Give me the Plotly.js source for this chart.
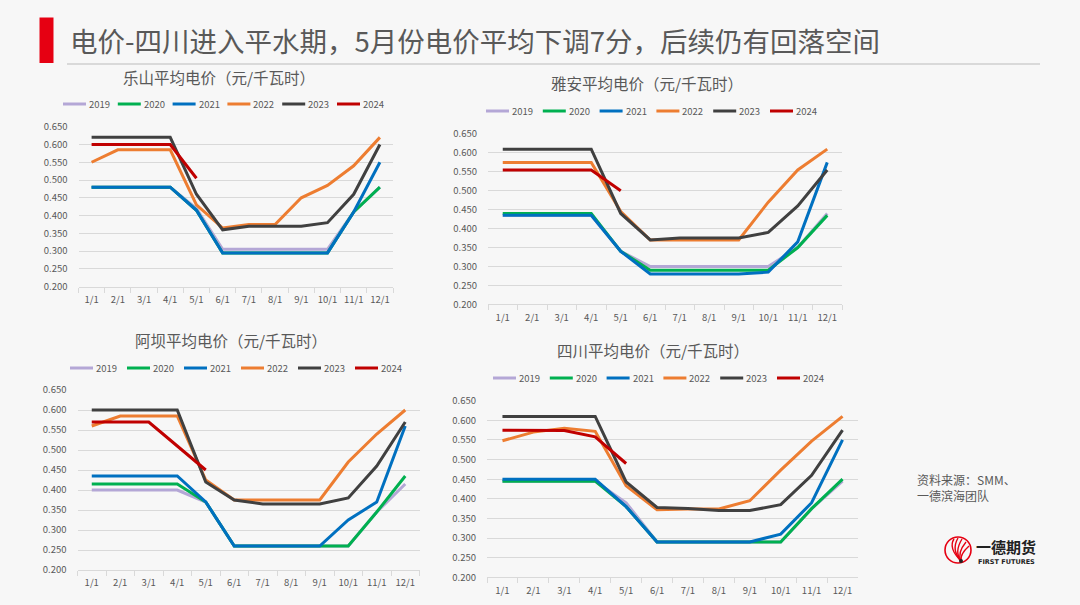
<!DOCTYPE html>
<html>
<head>
<meta charset="utf-8">
<script src="https://cdn.plot.ly/plotly-3.0.1.min.js"></script>
<style>
html,body{margin:0;padding:0;background:#f7f7f7;}
#chart{width:1080px;height:605px;}
</style>
</head>
<body>
<div id="chart"></div>
<script>
// ---------------- data ----------------
var months = ['1/1','2/1','3/1','4/1','5/1','6/1','7/1','8/1','9/1','10/1','11/1','12/1'];
var years = ['2019','2020','2021','2022','2023','2024'];
var yearColors = ['#b4a7d6','#00b050','#0070c0','#ed7d31','#404040','#c00000'];
var yTicks = [0.200,0.250,0.300,0.350,0.400,0.450,0.500,0.550,0.600,0.650];

var chartTitles = ['乐山平均电价（元/千瓦时）','雅安平均电价（元/千瓦时）','阿坝平均电价（元/千瓦时）','四川平均电价（元/千瓦时）'];
var headerTitle = '电价-四川进入平水期，5月份电价平均下调7分，后续仍有回落空间';
var sourceLines = ['资料来源：SMM、','一德滨海团队'];

// 乐山
var leshan2019 = [0.480,0.480,0.480,0.480,0.420,0.305,0.305,0.305,0.305,0.305,0.410,0.480];
var leshan2020 = [0.480,0.480,0.480,0.480,0.415,0.295,0.295,0.295,0.295,0.295,0.410,0.480];
var leshan2021 = [0.480,0.480,0.480,0.480,0.415,0.295,0.295,0.295,0.295,0.295,0.410,0.550];
var leshan2022 = [0.550,0.585,0.585,0.585,0.430,0.365,0.375,0.375,0.450,0.485,0.540,0.620];
var leshan2023 = [0.620,0.620,0.620,0.620,0.460,0.360,0.370,0.370,0.370,0.380,0.460,0.600];
var leshan2024 = [0.600,0.600,0.600,0.600,0.505];

// 雅安
var yaan2019 = [0.435,0.435,0.435,0.435,0.340,0.300,0.300,0.300,0.300,0.300,0.350,0.440];
var yaan2020 = [0.440,0.440,0.440,0.440,0.340,0.290,0.290,0.290,0.290,0.290,0.350,0.435];
var yaan2021 = [0.435,0.435,0.435,0.435,0.340,0.280,0.280,0.280,0.280,0.285,0.365,0.575];
var yaan2022 = [0.575,0.575,0.575,0.575,0.445,0.370,0.370,0.370,0.370,0.470,0.555,0.610];
var yaan2023 = [0.610,0.610,0.610,0.610,0.440,0.370,0.375,0.375,0.375,0.390,0.460,0.555];
var yaan2024 = [0.555,0.555,0.555,0.555,0.500];

// 阿坝
var aba2019 = [0.400,0.400,0.400,0.400,0.370,0.260,0.260,0.260,0.260,0.260,0.345,0.415];
var aba2020 = [0.415,0.415,0.415,0.415,0.370,0.260,0.260,0.260,0.260,0.260,0.345,0.435];
var aba2021 = [0.435,0.435,0.435,0.435,0.370,0.260,0.260,0.260,0.260,0.325,0.370,0.560];
var aba2022 = [0.560,0.585,0.585,0.585,0.425,0.375,0.375,0.375,0.375,0.470,0.540,0.600];
var aba2023 = [0.600,0.600,0.600,0.600,0.420,0.375,0.365,0.365,0.365,0.380,0.460,0.570];
var aba2024 = [0.570,0.570,0.570,0.510,0.450];

// 四川
var sc2019 = [0.445,0.445,0.445,0.445,0.390,0.290,0.290,0.290,0.290,0.290,0.375,0.445];
var sc2020 = [0.445,0.445,0.445,0.445,0.380,0.290,0.290,0.290,0.290,0.290,0.375,0.450];
var sc2021 = [0.450,0.450,0.450,0.450,0.380,0.290,0.290,0.290,0.290,0.310,0.390,0.550];
var sc2022 = [0.548,0.570,0.580,0.572,0.433,0.372,0.374,0.374,0.395,0.473,0.547,0.610];
var sc2023 = [0.610,0.610,0.610,0.610,0.443,0.378,0.375,0.370,0.370,0.385,0.460,0.575];
var sc2024 = [0.575,0.575,0.574,0.558,0.490];

var chartSeries = [
  [leshan2019,leshan2020,leshan2021,leshan2022,leshan2023,leshan2024],
  [yaan2019,yaan2020,yaan2021,yaan2022,yaan2023,yaan2024],
  [aba2019,aba2020,aba2021,aba2022,aba2023,aba2024],
  [sc2019,sc2020,sc2021,sc2022,sc2023,sc2024]
];

// ---------------- layout geometry (pixels) ----------------
var W = 1080, H = 605;
var FONT = '"Noto Sans CJK SC", "Noto Sans", sans-serif';
var GRAY = '#595959';
var GRID = '#d9d9d9';
// plot boxes: [left, right, topY(0.650), bottomY(0.200)]
var boxes = [
  [78.5, 393, 126.7, 286.7],
  [488, 842, 134, 304.3],
  [77.5, 419.5, 390, 570],
  [487, 858, 400.7, 577.3]
];
var titlePos = [[219,77],[647,83],[231,340],[653,350]];
var legendPos = [[63,104,54.8],[486,111,56.8],[70,368,57],[493,378,56.8]];

var data = [];
var layout = {
  width: W, height: H,
  margin: {l:0,r:0,t:0,b:0},
  paper_bgcolor: '#f7f7f7',
  plot_bgcolor: 'rgba(0,0,0,0)',
  showlegend: false,
  font: {family: FONT, color: GRAY},
  shapes: [], annotations: []
};

for (var c = 0; c < 4; c++) {
  var sfx = c === 0 ? '' : String(c + 1);
  var b = boxes[c];
  layout['xaxis' + sfx] = {
    domain: [b[0] / W, b[1] / W],
    anchor: 'y' + sfx,
    type: 'category',
    categoryorder: 'array', categoryarray: months,
    range: [-0.5, 11.5],
    showgrid: false, zeroline: false,
    showline: true, linecolor: GRID, linewidth: 1,
    ticks: 'outside', tickson: 'boundaries', ticklen: 5, tickcolor: GRID, tickwidth: 1,
    tickangle: 0,
    ticklabelstandoff: 4,
    tickfont: {size: 9.5, color: GRAY, family: FONT},
    fixedrange: true
  };
  layout['yaxis' + sfx] = {
    domain: [1 - b[3] / H, 1 - b[2] / H],
    anchor: 'x' + sfx,
    range: [0.2, 0.65],
    tickmode: 'array', tickvals: yTicks,
    tickformat: '.3f',
    showgrid: true, gridcolor: GRID, gridwidth: 1,
    zeroline: false, showline: false, ticks: '',
    ticklabelstandoff: 10,
    tickfont: {size: 9.5, color: GRAY, family: FONT},
    fixedrange: true
  };
  var series = chartSeries[c];
  for (var s = 0; s < years.length; s++) {
    data.push({
      type: 'scatter', mode: 'lines',
      x: months.slice(0, series[s].length), y: series[s],
      name: years[s],
      line: {color: yearColors[s], width: 3},
      xaxis: 'x' + sfx, yaxis: 'y' + sfx,
      hoverinfo: 'skip'
    });
  }
  // chart title
  layout.annotations.push({
    xref: 'x5', yref: 'y5', x: titlePos[c][0], y: titlePos[c][1],
    text: chartTitles[c], showarrow: false, xanchor: 'center', yanchor: 'middle',
    font: {size: 15.5, color: GRAY, family: FONT}
  });
  // legend
  var lp = legendPos[c];
  for (var k = 0; k < years.length; k++) {
    var lx = lp[0] + k * lp[2];
    layout.shapes.push({
      type: 'line', xref: 'x5', yref: 'y5',
      x0: lx, x1: lx + 23, y0: lp[1], y1: lp[1],
      line: {color: yearColors[k], width: 3}
    });
    layout.annotations.push({
      xref: 'x5', yref: 'y5', x: lx + 24, y: lp[1],
      text: years[k], showarrow: false, xanchor: 'left', yanchor: 'middle',
      font: {size: 9.5, color: GRAY, family: FONT}
    });
  }
}

// page-pixel overlay axis for decorations
layout.xaxis5 = {domain: [0, 1], range: [0, W], visible: false, fixedrange: true, anchor: 'y5'};
layout.yaxis5 = {domain: [0, 1], range: [H, 0], visible: false, fixedrange: true, anchor: 'x5'};
data.push({type: 'scatter', x: [0], y: [0], xaxis: 'x5', yaxis: 'y5', mode: 'markers',
  marker: {opacity: 0}, hoverinfo: 'skip'});

// header
layout.shapes.push({type: 'rect', xref: 'x5', yref: 'y5', x0: 39.5, x1: 53.5, y0: 17.5, y1: 63,
  fillcolor: '#e60012', line: {width: 0}});
layout.shapes.push({type: 'line', xref: 'x5', yref: 'y5', x0: 67, x1: 1040, y0: 64, y1: 64,
  line: {color: '#d9d9d9', width: 2}});
layout.annotations.push({xref: 'x5', yref: 'y5', x: 68, y: 40, text: headerTitle,
  showarrow: false, xanchor: 'left', yanchor: 'middle',
  font: {size: 27.5, color: GRAY, family: FONT}});

// source
layout.annotations.push({xref: 'x5', yref: 'y5', x: 915, y: 487, text: sourceLines.join('<br>'),
  showarrow: false, xanchor: 'left', yanchor: 'middle', align: 'left',
  font: {size: 12, color: GRAY, family: FONT}});

// logo
var cx = 958, cy = 550, r = 13;
layout.shapes.push({type: 'circle', xref: 'x5', yref: 'y5',
  x0: cx - r, x1: cx + r, y0: cy - r, y1: cy + r,
  line: {color: '#e60012', width: 1.6}});
var fan = [[-10,4,-4,-11],[-7,6,0,-12],[-4,8,4,-11],[-1,9,8,-8],[2,10,11,-4]];
for (var f = 0; f < fan.length; f++) {
  var p = fan[f];
  layout.shapes.push({type: 'path', xref: 'x5', yref: 'y5',
    path: 'M ' + (cx + 3) + ' ' + (cy + 11) + ' Q ' + (cx + p[0]) + ' ' + (cy + p[1] - 6) + ' ' + (cx + p[2]) + ' ' + (cy + p[3]),
    line: {color: '#e60012', width: 1.4}});
}
layout.shapes.push({type: 'circle', xref: 'x5', yref: 'y5', x0: cx + 1, x1: cx + 5, y0: cy + 9, y1: cy + 13,
  fillcolor: '#222', line: {width: 0}});
layout.annotations.push({xref: 'x5', yref: 'y5', x: 1006, y: 546, text: '<b>一德期货</b>',
  showarrow: false, xanchor: 'center', yanchor: 'middle', font: {size: 15, color: '#222', family: FONT}});
layout.annotations.push({xref: 'x5', yref: 'y5', x: 1006, y: 562, text: '<b>FIRST FUTURES</b>',
  showarrow: false, xanchor: 'center', yanchor: 'middle', font: {size: 6.5, color: '#222', family: '"DejaVu Sans", sans-serif'}});

Plotly.newPlot('chart', data, layout, {staticPlot: true, displayModeBar: false});
</script>
</body>
</html>
